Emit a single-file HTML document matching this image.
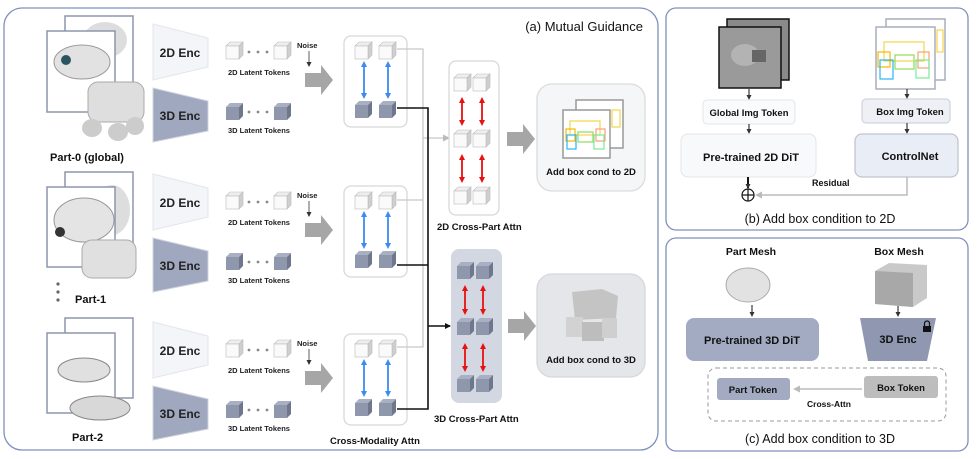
<!DOCTYPE html>
<html><head><meta charset="utf-8"><style>
html,body{margin:0;padding:0;background:#fff;}
svg{display:block;font-family:"Liberation Sans",Arial,sans-serif;font-weight:bold;}
</style></head><body>
<svg width="977" height="459" viewBox="0 0 977 459" xmlns="http://www.w3.org/2000/svg">
<defs>
<g id="lc"><polygon points="0,4 4,0 17,0 13,4" fill="#eeeeee" stroke="#bbb" stroke-width="0.6"/><polygon points="13,4 17,0 17,13 13,17" fill="#cfcfcf" stroke="#bbb" stroke-width="0.6"/><rect x="0" y="4" width="13" height="13" fill="#fafafa" stroke="#bbb" stroke-width="0.6"/></g>
<g id="dc"><polygon points="0,4 4,0 17,0 13,4" fill="#a9b0c3"/><polygon points="13,4 17,0 17,13 13,17" fill="#6f778d"/><rect x="0" y="4" width="13" height="13" fill="#8f97ad"/></g>
<marker id="ab" markerWidth="6" markerHeight="6" refX="3" refY="3" orient="auto-start-reverse" markerUnits="userSpaceOnUse"><path d="M0,0 L6,3 L0,6z" fill="#3b8cf0"/></marker>
<marker id="ar" markerWidth="6" markerHeight="6" refX="3" refY="3" orient="auto-start-reverse" markerUnits="userSpaceOnUse"><path d="M0,0 L6,3 L0,6z" fill="#e81010"/></marker>
<marker id="ak" markerWidth="6" markerHeight="6" refX="5" refY="3" orient="auto" markerUnits="userSpaceOnUse"><path d="M0,0 L6,3 L0,6z" fill="#111"/></marker>
<marker id="ag" markerWidth="7" markerHeight="7" refX="5" refY="3.5" orient="auto" markerUnits="userSpaceOnUse"><path d="M0,0 L7,3.5 L0,7z" fill="#bbb"/></marker>
<marker id="ak2" markerWidth="5" markerHeight="5" refX="4" refY="2.5" orient="auto" markerUnits="userSpaceOnUse"><path d="M0,0 L5,2.5 L0,5z" fill="#333"/></marker>
<g id="bigarr"><polygon points="0,-7 16,-7 16,-15 28,0 16,15 16,7 0,7" fill="#a6a6a6"/></g>
<g id="row">
 <polygon points="153,24 208,38 208,67 153,80" fill="#f4f5f9" stroke="#e3e5ec"/>
 <text x="180" y="57" font-size="12" text-anchor="middle" fill="#222">2D Enc</text>
 <polygon points="153,88 208,101 208,131 153,142" fill="#a0a8bf" stroke="#d0d4de"/>
 <text x="180" y="120" font-size="12" text-anchor="middle" fill="#222">3D Enc</text>
 <use href="#lc" x="226" y="42"/><use href="#lc" x="274" y="42"/>
 <circle cx="249" cy="52" r="1.4" fill="#888"/><circle cx="258" cy="52" r="1.4" fill="#888"/><circle cx="267" cy="52" r="1.4" fill="#888"/>
 <text x="228" y="75" font-size="7.5" fill="#222">2D Latent Tokens</text>
 <text x="297" y="48" font-size="7.5" fill="#222">Noise</text>
 <line x1="309" y1="51" x2="309" y2="66" stroke="#777" stroke-width="1.2" marker-end="url(#ak2)"/>
 <use href="#bigarr" x="305" y="80"/>
 <use href="#dc" x="226" y="103"/><use href="#dc" x="274" y="103"/>
 <circle cx="249" cy="112" r="1.4" fill="#888"/><circle cx="258" cy="112" r="1.4" fill="#888"/><circle cx="267" cy="112" r="1.4" fill="#888"/>
 <text x="228" y="133" font-size="7.5" fill="#222">3D Latent Tokens</text>
 <rect x="344" y="36" width="63" height="91" rx="7" fill="#fff" stroke="#d8d8d8" stroke-width="1.3"/>
 <use href="#lc" x="355" y="42"/><use href="#lc" x="379" y="42"/>
 <use href="#dc" x="355" y="101"/><use href="#dc" x="379" y="101"/>
 <line x1="364" y1="64" x2="364" y2="96" stroke="#3b8cf0" stroke-width="1.8" marker-start="url(#ab)" marker-end="url(#ab)"/>
 <line x1="388" y1="64" x2="388" y2="96" stroke="#3b8cf0" stroke-width="1.8" marker-start="url(#ab)" marker-end="url(#ab)"/>
</g>
</defs>

<!-- panel a -->
<rect x="4" y="8" width="654" height="442" rx="18" fill="#fff" stroke="#8090bd" stroke-width="1.3"/>
<text x="643" y="31" font-size="13" text-anchor="end" font-weight="normal" fill="#111">(a) Mutual Guidance</text>

<use href="#row"/>
<g transform="translate(0,150)"><use href="#row"/></g>
<g transform="translate(0,298)"><use href="#row"/></g>

<!-- part images -->
<g>
 <rect x="65" y="16" width="68" height="84" fill="#fff" stroke="#8c95ad" stroke-width="1.5"/>
 <ellipse cx="105" cy="40" rx="22" ry="18" fill="#ddd"/>
 <rect x="47" y="31" width="68" height="81" fill="#fff" stroke="#8c95ad" stroke-width="1.5"/>
 <ellipse cx="82" cy="62" rx="28" ry="17" fill="#e2e2e2" stroke="#999"/>
 <circle cx="66" cy="60" r="5" fill="#2a5560"/>
 <rect x="88" y="82" width="56" height="40" rx="10" fill="#dedede" stroke="#aaa"/>
 <ellipse cx="92" cy="128" rx="10" ry="9" fill="#ccc"/><ellipse cx="118" cy="132" rx="10" ry="9" fill="#ccc"/><ellipse cx="135" cy="126" rx="9" ry="9" fill="#ccc"/>
 <text x="50" y="161" font-size="11" fill="#111">Part-0 (global)</text>
</g>
<g>
 <rect x="65" y="172" width="68" height="80" fill="#fff" stroke="#8c95ad" stroke-width="1.5"/>
 <ellipse cx="112" cy="210" rx="18" ry="25" fill="#ddd"/>
 <rect x="47" y="187" width="68" height="80" fill="#fff" stroke="#8c95ad" stroke-width="1.5"/>
 <ellipse cx="84" cy="220" rx="30" ry="22" fill="#e4e4e4" stroke="#999"/>
 <circle cx="60" cy="232" r="5" fill="#333"/>
 <rect x="82" y="240" width="54" height="38" rx="10" fill="#e0e0e0" stroke="#aaa"/>
 <circle cx="58" cy="284" r="1.6" fill="#666"/><circle cx="58" cy="292" r="1.6" fill="#666"/><circle cx="58" cy="300" r="1.6" fill="#666"/>
 <text x="75" y="303" font-size="11" fill="#111">Part-1</text>
</g>
<g>
 <rect x="65" y="318" width="68" height="80" fill="#fff" stroke="#8c95ad" stroke-width="1.5"/>
 <rect x="47" y="333" width="68" height="80" fill="#fff" stroke="#8c95ad" stroke-width="1.5"/>
 <ellipse cx="84" cy="370" rx="26" ry="12" fill="#e0e0e0" stroke="#888"/>
 <ellipse cx="100" cy="408" rx="30" ry="12" fill="#d8d8d8" stroke="#888"/>
 <text x="72" y="441" font-size="11" fill="#111">Part-2</text>
</g>

<!-- connectors -->
<polyline points="397,49 423,49 423,347 397,347" fill="none" stroke="#c8c8c8" stroke-width="1.3"/>
<line x1="397" y1="200" x2="423" y2="200" stroke="#c8c8c8" stroke-width="1.3"/>
<line x1="423" y1="138" x2="448" y2="138" stroke="#c8c8c8" stroke-width="1.3" marker-end="url(#ag)"/>
<polyline points="397,108 428,108 428,409 397,409" fill="none" stroke="#111" stroke-width="1.6"/>
<line x1="397" y1="265" x2="428" y2="265" stroke="#111" stroke-width="1.6"/>
<line x1="428" y1="326" x2="450" y2="326" stroke="#111" stroke-width="1.6" marker-end="url(#ak)"/>
<text x="330" y="444" font-size="9.5" fill="#111">Cross-Modality Attn</text>

<!-- 2D cross-part -->
<rect x="449" y="61" width="50" height="154" rx="7" fill="#fff" stroke="#d8d8d8" stroke-width="1.3"/>
<use href="#lc" x="454" y="74"/><use href="#lc" x="473" y="74"/>
<use href="#lc" x="454" y="130"/><use href="#lc" x="473" y="130"/>
<use href="#lc" x="454" y="187"/><use href="#lc" x="473" y="187"/>
<line x1="462" y1="100" x2="462" y2="123" stroke="#e81010" stroke-width="1.8" marker-start="url(#ar)" marker-end="url(#ar)"/>
<line x1="482" y1="100" x2="482" y2="123" stroke="#e81010" stroke-width="1.8" marker-start="url(#ar)" marker-end="url(#ar)"/>
<line x1="462" y1="157" x2="462" y2="180" stroke="#e81010" stroke-width="1.8" marker-start="url(#ar)" marker-end="url(#ar)"/>
<line x1="482" y1="157" x2="482" y2="180" stroke="#e81010" stroke-width="1.8" marker-start="url(#ar)" marker-end="url(#ar)"/>
<text x="437" y="230" font-size="9.5" fill="#111">2D Cross-Part Attn</text>

<!-- 3D cross-part -->
<rect x="451" y="249" width="51" height="154" rx="8" fill="#d3d7e1"/>
<use href="#dc" x="457" y="262"/><use href="#dc" x="476" y="262"/>
<use href="#dc" x="457" y="318"/><use href="#dc" x="476" y="318"/>
<use href="#dc" x="457" y="375"/><use href="#dc" x="476" y="375"/>
<line x1="465" y1="288" x2="465" y2="312" stroke="#e81010" stroke-width="1.8" marker-start="url(#ar)" marker-end="url(#ar)"/>
<line x1="483" y1="288" x2="483" y2="312" stroke="#e81010" stroke-width="1.8" marker-start="url(#ar)" marker-end="url(#ar)"/>
<line x1="465" y1="346" x2="465" y2="369" stroke="#e81010" stroke-width="1.8" marker-start="url(#ar)" marker-end="url(#ar)"/>
<line x1="483" y1="346" x2="483" y2="369" stroke="#e81010" stroke-width="1.8" marker-start="url(#ar)" marker-end="url(#ar)"/>
<text x="434" y="422" font-size="9.5" fill="#111">3D Cross-Part Attn</text>

<use href="#bigarr" x="507" y="139"/>
<use href="#bigarr" x="508" y="326"/>

<!-- add box cond 2D -->
<rect x="537" y="84" width="108" height="107" rx="15" fill="#f5f6f8" stroke="#dcdcdc" stroke-width="1.3"/>
<rect x="576" y="100" width="47" height="48" fill="#fff" stroke="#999" stroke-width="1.5"/>
<rect x="563" y="110" width="47" height="48" fill="#fff" stroke="#999" stroke-width="1.5"/>
<rect x="570" y="121" width="30" height="14" fill="none" stroke="#f5d64a" stroke-width="1.2"/>
<rect x="612" y="110" width="8" height="17" fill="none" stroke="#f5d64a" stroke-width="1.2"/>
<rect x="566" y="129" width="9" height="12" fill="none" stroke="#f5b800" stroke-width="1.2"/>
<rect x="567" y="135" width="9" height="14" fill="none" stroke="#29b6f6" stroke-width="1.2"/>
<rect x="578" y="132" width="15" height="10" fill="none" stroke="#8fdc5a" stroke-width="1.2"/>
<rect x="596" y="129" width="9" height="12" fill="none" stroke="#f5a07a" stroke-width="1.2"/>
<rect x="594" y="135" width="10" height="14" fill="none" stroke="#7be89a" stroke-width="1.2"/>
<text x="591" y="175" font-size="9.5" text-anchor="middle" fill="#111">Add box cond to 2D</text>

<!-- add box cond 3D -->
<rect x="537" y="274" width="108" height="103" rx="15" fill="#e4e6ea" stroke="#d6d8dc" stroke-width="1.3"/>
<polygon points="572,292 602,289 618,296 616,318 575,320" fill="#c4c4c4"/>
<rect x="566" y="317" width="17" height="20" fill="#d2d2d2"/>
<rect x="582" y="322" width="22" height="19" fill="#bdbdbd"/>
<rect x="602" y="318" width="15" height="20" fill="#cfcfcf"/>
<text x="591" y="363" font-size="9.5" text-anchor="middle" fill="#111">Add box cond to 3D</text>

<!-- panel b -->
<rect x="666" y="8" width="302" height="222" rx="10" fill="#fff" stroke="#8090bd" stroke-width="1.3"/>
<rect x="727" y="19" width="62" height="61" fill="#8a8a8a" stroke="#111" stroke-width="1.5"/>
<rect x="719" y="27" width="62" height="61" fill="#9a9a9a" stroke="#111" stroke-width="1.5"/>
<ellipse cx="745" cy="55" rx="14" ry="11" fill="#b3b3b3"/><rect x="752" y="50" width="14" height="12" fill="#666"/>
<rect x="886" y="19" width="59" height="61" fill="#fff" stroke="#a8adbd" stroke-width="1.5"/>
<rect x="876" y="27" width="59" height="62" fill="#fff" stroke="#a8adbd" stroke-width="1.5"/>
<rect x="884" y="42" width="40" height="19" fill="none" stroke="#f5d64a" stroke-width="1.2"/>
<rect x="937" y="30" width="6" height="22" fill="none" stroke="#f5d64a" stroke-width="1.2"/>
<rect x="878" y="52" width="12" height="15" fill="none" stroke="#f5b800" stroke-width="1.2"/>
<rect x="880" y="60" width="13" height="19" fill="none" stroke="#29b6f6" stroke-width="1.2"/>
<rect x="895" y="55" width="19" height="14" fill="none" stroke="#8fdc5a" stroke-width="1.2"/>
<rect x="918" y="52" width="11" height="16" fill="none" stroke="#f5a07a" stroke-width="1.2"/>
<rect x="916" y="60" width="13" height="18" fill="none" stroke="#7be89a" stroke-width="1.2"/>
<line x1="749" y1="89" x2="749" y2="99" stroke="#111" stroke-width="1" marker-end="url(#ak2)"/>
<line x1="907" y1="89" x2="907" y2="98" stroke="#111" stroke-width="1" marker-end="url(#ak2)"/>
<rect x="703" y="100" width="92" height="24" rx="4" fill="#fafbfc" stroke="#e3e5ea"/>
<text x="749" y="116" font-size="9.5" text-anchor="middle" fill="#111">Global Img Token</text>
<rect x="862" y="99" width="88" height="24" rx="4" fill="#eef0f5" stroke="#c7cbd5"/>
<text x="910" y="115" font-size="9.5" text-anchor="middle" fill="#111">Box Img Token</text>
<line x1="749" y1="124" x2="749" y2="133" stroke="#111" stroke-width="1" marker-end="url(#ak2)"/>
<line x1="907" y1="123" x2="907" y2="133" stroke="#111" stroke-width="1" marker-end="url(#ak2)"/>
<rect x="681" y="134" width="135" height="43" rx="7" fill="#f8f9fb" stroke="#e3e5ea"/>
<text x="751" y="161" font-size="11" text-anchor="middle" fill="#111">Pre-trained 2D DiT</text>
<rect x="855" y="134" width="103" height="43" rx="7" fill="#e9edf5" stroke="#c0c5d0" stroke-width="1.3"/>
<text x="910" y="160" font-size="11" text-anchor="middle" fill="#111">ControlNet</text>
<line x1="748" y1="177" x2="748" y2="188" stroke="#111" stroke-width="2" marker-end="url(#ak2)"/>
<circle cx="748" cy="195" r="6" fill="#fff" stroke="#111" stroke-width="1.2"/>
<line x1="742" y1="195" x2="754" y2="195" stroke="#111" stroke-width="1.2"/><line x1="748" y1="189" x2="748" y2="201" stroke="#111" stroke-width="1.2"/>
<polyline points="907,177 907,195 757,195" fill="none" stroke="#bbb" stroke-width="1.5" marker-end="url(#ag)"/>
<text x="812" y="186" font-size="9" fill="#111">Residual</text>
<text x="820" y="223" font-size="12.5" text-anchor="middle" font-weight="normal" fill="#111">(b) Add box condition to 2D</text>

<!-- panel c -->
<rect x="666" y="238" width="302" height="213" rx="10" fill="#fff" stroke="#8090bd" stroke-width="1.3"/>
<text x="751" y="255" font-size="10.5" text-anchor="middle" fill="#111">Part Mesh</text>
<text x="899" y="255" font-size="10.5" text-anchor="middle" fill="#111">Box Mesh</text>
<ellipse cx="748" cy="285" rx="22" ry="17" fill="#e2e2e2" stroke="#aaa"/>
<polygon points="875,271 889,263 927,265 927,298 913,307 875,304" fill="#c9c9c9"/>
<polygon points="875,271 913,273 913,307 875,304" fill="#a8a8a8"/>
<line x1="752" y1="305" x2="752" y2="316" stroke="#111" stroke-width="1" marker-end="url(#ak2)"/>
<line x1="898" y1="306" x2="898" y2="316" stroke="#111" stroke-width="1" marker-end="url(#ak2)"/>
<rect x="686" y="318" width="133" height="43" rx="8" fill="#a3abc3"/>
<text x="752" y="344" font-size="11" text-anchor="middle" fill="#111">Pre-trained 3D DiT</text>
<polygon points="860,318 936,318 927,361 868,361" fill="#8f98b0"/>
<text x="898" y="343" font-size="11" text-anchor="middle" fill="#111">3D Enc</text>
<rect x="923" y="326" width="8" height="6" fill="#111"/><path d="M924.5,326 v-2.5 a2.5,2.5 0 0 1 5,0 v2.5" fill="none" stroke="#111" stroke-width="1.2"/>
<rect x="708" y="368" width="238" height="53" rx="8" fill="none" stroke="#999" stroke-width="1" stroke-dasharray="4,3"/>
<rect x="717" y="378" width="73" height="22" rx="3" fill="#a3abc3"/>
<text x="753" y="393" font-size="9.5" text-anchor="middle" fill="#111">Part Token</text>
<rect x="864" y="376" width="74" height="22" rx="3" fill="#bdbdbd"/>
<text x="901" y="391" font-size="9.5" text-anchor="middle" fill="#111">Box Token</text>
<line x1="862" y1="389" x2="795" y2="389" stroke="#bbb" stroke-width="1.5" marker-end="url(#ag)"/>
<text x="829" y="407" font-size="8.5" text-anchor="middle" fill="#111">Cross-Attn</text>
<text x="820" y="443" font-size="12.5" text-anchor="middle" font-weight="normal" fill="#111">(c) Add box condition to 3D</text>
</svg>
</body></html>
